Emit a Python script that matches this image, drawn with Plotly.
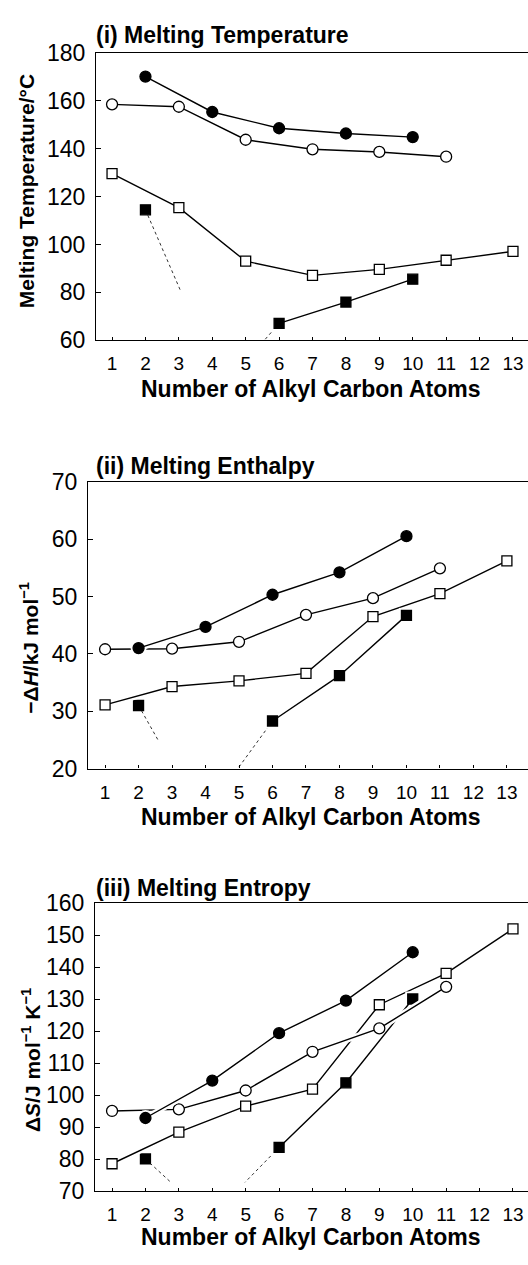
import plotly.graph_objects as go

W, H = 528, 1265

# ---------------- data ----------------
x_filled_circle = [2, 4, 6, 8, 10]
x_open_circle = [1, 3, 5, 7, 9, 11]
x_open_square = [1, 3, 5, 7, 9, 11, 13]
x_filled_square_single = [2]          # isolated point (not joined)
x_filled_square = [6, 8, 10]          # joined points
x_ticks = list(range(1, 14))

# (i) melting temperature / °C
tm_filled_circle = [170.2, 155.4, 148.6, 146.4, 144.9]
tm_open_circle = [158.6, 157.6, 143.8, 139.8, 138.7, 136.7]
tm_open_square = [129.6, 115.4, 93.0, 87.1, 89.6, 93.4, 97.1]
tm_filled_square_single = [114.5]
tm_filled_square = [67.0, 75.9, 85.5]
tm_guide1_x, tm_guide1_y = [2, 3.04], [114.5, 81.0]
tm_guide2_x, tm_guide2_y = [6, 5.5], [67.0, 59.0]
tm_ticks = [60, 80, 100, 120, 140, 160, 180]

# (ii) melting enthalpy, -dH / kJ mol-1
dh_filled_circle = [41.0, 44.7, 50.3, 54.2, 60.5]
dh_open_circle = [40.8, 40.9, 42.1, 46.8, 49.7, 54.9]
dh_open_square = [31.1, 34.3, 35.3, 36.6, 46.5, 50.5, 56.2]
dh_filled_square_single = [31.0]
dh_filled_square = [28.3, 36.2, 46.7]
dh_guide1_x, dh_guide1_y = [2, 2.6], [31.0, 24.8]
dh_guide2_x, dh_guide2_y = [6, 4.9], [28.3, 19.5]
dh_ticks = [20, 30, 40, 50, 60, 70]

# (iii) melting entropy, dS / J mol-1 K-1
ds_filled_circle = [92.9, 104.6, 119.4, 129.6, 144.7]
ds_open_circle = [95.1, 95.6, 101.5, 113.6, 120.9, 133.9]
ds_open_square = [78.6, 88.5, 96.6, 101.9, 128.3, 138.1, 152.0]
ds_filled_square_single = [80.1]
ds_filled_square = [83.7, 103.9, 130.1]
ds_guide1_x, ds_guide1_y = [2, 2.74], [80.1, 73.0]
ds_guide2_x, ds_guide2_y = [6, 4.98], [83.7, 72.8]
ds_ticks = [70, 80, 90, 100, 110, 120, 130, 140, 150, 160]

panel_titles = ["(i) Melting Temperature", "(ii) Melting Enthalpy", "(iii) Melting Entropy"]
y_titles = ["Melting Temperature/°C",
            "−Δ<i>H</i>/kJ mol<sup>−1</sup>",
            "Δ<i>S</i>/J mol<sup>−1</sup> K<sup>−1</sup>"]
x_title = "Number of Alkyl Carbon Atoms"

# ---------------- layout geometry (pixels) ----------------
FONT = "Liberation Sans, Arial, Helvetica, sans-serif"
panels = [
    dict(data=(tm_open_square, tm_filled_square, tm_open_circle, tm_filled_circle),
         single=tm_filled_square_single,
         guides=((tm_guide1_x, tm_guide1_y), (tm_guide2_x, tm_guide2_y)),
         yrange=[60, 180], yticks=tm_ticks, xrange=[0.52, 13.45],
         left=96, top=41, bottom=334, title_y=22, ytitle_x=26, ytitle_y=182,
         xtitle_y=384),
    dict(data=(dh_open_square, dh_filled_square, dh_open_circle, dh_filled_circle),
         single=dh_filled_square_single,
         guides=((dh_guide1_x, dh_guide1_y), (dh_guide2_x, dh_guide2_y)),
         yrange=[20, 70], yticks=dh_ticks, xrange=[0.49, 13.63],
         left=88, top=478.5, bottom=771.5, title_y=462, ytitle_x=29, ytitle_y=648,
         xtitle_y=821),
    dict(data=(ds_open_square, ds_filled_square, ds_open_circle, ds_filled_circle),
         single=ds_filled_square_single,
         guides=((ds_guide1_x, ds_guide1_y), (ds_guide2_x, ds_guide2_y)),
         yrange=[70, 160], yticks=ds_ticks, xrange=[0.49, 13.45],
         left=95, top=909, bottom=1203, title_y=893, ytitle_x=31, ytitle_y=1069,
         xtitle_y=1250),
]

styles = [
    dict(x=x_open_square, symbol="square", size=10, fill="white"),
    dict(x=x_filled_square, symbol="square", size=10, fill="black"),
    dict(x=x_open_circle, symbol="circle", size=11, fill="white"),
    dict(x=x_filled_circle, symbol="circle", size=11, fill="black"),
]

fig = go.Figure()
annotations = []
layout_axes = {}

for i, p in enumerate(panels):
    n = "" if i == 0 else str(i + 1)
    xa, ya = "x" + n, "y" + n

    # dotted guide lines
    for gx, gy in p["guides"]:
        fig.add_trace(go.Scatter(x=gx, y=gy, mode="lines", xaxis=xa, yaxis=ya,
                                 line=dict(color="#333333", width=1, dash="dot"),
                                 showlegend=False, hoverinfo="skip"))
    # isolated filled square
    fig.add_trace(go.Scatter(x=x_filled_square_single, y=p["single"], mode="markers",
                             xaxis=xa, yaxis=ya,
                             marker=dict(symbol="square", size=10, color="black",
                                         line=dict(color="black", width=1.3)),
                             showlegend=False))
    # series with white halos
    for vals, st in zip(p["data"], styles):
        fig.add_trace(go.Scatter(x=st["x"], y=vals, mode="lines", xaxis=xa, yaxis=ya,
                                 line=dict(color="white", width=6),
                                 showlegend=False, hoverinfo="skip"))
        if st["fill"] == "black":
            fig.add_trace(go.Scatter(x=st["x"], y=vals, mode="markers", xaxis=xa, yaxis=ya,
                                     marker=dict(symbol=st["symbol"], size=st["size"] + 5,
                                                 color="white", line=dict(width=0)),
                                     showlegend=False, hoverinfo="skip"))
        fig.add_trace(go.Scatter(x=st["x"], y=vals, mode="lines+markers", xaxis=xa, yaxis=ya,
                                 line=dict(color="black", width=1.4),
                                 marker=dict(symbol=st["symbol"], size=st["size"],
                                             color=st["fill"],
                                             line=dict(color="black", width=1.3)),
                                 showlegend=False))

    ydom = [1 - p["bottom"] / H, 1 - p["top"] / H]
    xdom = [p["left"] / W, 1.0]
    layout_axes["xaxis" + n] = dict(
        domain=xdom, range=p["xrange"], anchor=ya, tickmode="array",
        tickvals=x_ticks, ticktext=[str(t) for t in x_ticks],
        showline=True, mirror=True, linecolor="black", linewidth=1.3,
        ticks="inside", ticklen=3, tickcolor="black", showgrid=False, zeroline=False,
        tickfont=dict(family=FONT, size=19, color="black"), ticklabelstandoff=6,
        fixedrange=True)
    layout_axes["yaxis" + n] = dict(
        domain=ydom, range=p["yrange"], anchor=xa, tickmode="array",
        tickvals=p["yticks"], showline=True, mirror=False, linecolor="black",
        linewidth=1.3, ticks="inside", ticklen=5, tickcolor="black",
        showgrid=False, zeroline=False,
        tickfont=dict(family=FONT, size=23, color="black"), ticklabelstandoff=5,
        fixedrange=True)

    annotations.append(dict(text="<b>" + panel_titles[i] + "</b>", xref="paper", yref="paper",
                            x=94 / W, y=1 - p["title_y"] / H, xanchor="left",
                            yanchor="middle", showarrow=False,
                            font=dict(family=FONT, size=23, color="black")))
    annotations.append(dict(text="<b>" + y_titles[i] + "</b>", xref="paper", yref="paper",
                            x=p["ytitle_x"] / W, y=1 - p["ytitle_y"] / H, xanchor="center",
                            yanchor="middle", textangle=-90, showarrow=False,
                            font=dict(family=FONT, size=21, color="black")))
    annotations.append(dict(text="<b>" + x_title + "</b>", xref="paper", yref="paper",
                            x=311 / W, y=1 - p["xtitle_y"] / H, xanchor="center",
                            yanchor="middle", showarrow=False,
                            font=dict(family=FONT, size=23, color="black")))

fig.update_layout(
    width=W, height=H, autosize=False,
    margin=dict(l=0, r=0, t=0, b=0),
    paper_bgcolor="white", plot_bgcolor="white",
    showlegend=False, annotations=annotations,
    **layout_axes,
)

fig.write_html("out.html", config={"displayModeBar": False})
